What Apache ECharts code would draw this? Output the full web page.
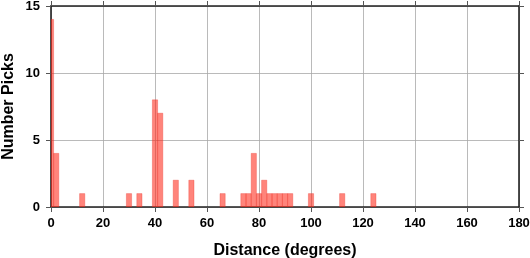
<!DOCTYPE html>
<html><head><meta charset="utf-8">
<script src="https://cdn.jsdelivr.net/npm/echarts@6/dist/echarts.min.js"></script>
<style>html,body{margin:0;padding:0;background:#fff}#c{width:530px;height:258px}</style>
</head><body><div id="c"></div>
<script>
// Histogram bins (2-degree bins centered on even degrees)
const binCenters = [0, 2, 12, 30, 34, 40, 42, 48, 54, 66, 74, 76, 78, 80, 82, 84, 86, 88, 90, 92, 100, 112, 124];
const binCounts  = [14, 4, 1, 1, 1, 8, 7, 2, 2, 1, 1, 1, 4, 1, 2, 1, 1, 1, 1, 1, 1, 1, 1];
const binWidth = 2;
const xTicks = [0, 20, 40, 60, 80, 100, 120, 140, 160, 180];
const yTicks = [0, 5, 10, 15];

const chart = echarts.init(document.getElementById('c'), null, {renderer: 'canvas'});
const font = '"Liberation Sans", Arial, Helvetica, sans-serif';
const data = binCenters.map((c, i) => [c, binCounts[i]]);

const tickStyle = {show: true, inside: false, length: 5, lineStyle: {color: '#555', width: 1}};
const frame = {show: true, onZero: false, lineStyle: {color: '#222', width: 1.6}};
chart.setOption({
  animation: false,
  grid: {left: 51, right: 11, top: 6, bottom: 51, containLabel: false, outerBoundsMode: 'none'},
  xAxis: [{
    type: 'value', min: xTicks[0], max: xTicks[xTicks.length - 1], interval: 20,
    name: 'Distance (degrees)', nameLocation: 'middle', nameGap: 36, nameMoveOverlap: false,
    nameTextStyle: {fontFamily: font, fontWeight: 'bold', fontSize: 16, color: '#000'},
    axisLine: frame, axisTick: tickStyle,
    axisLabel: {fontFamily: font, fontWeight: 'bold', fontSize: 13, color: '#000', margin: 10},
    splitLine: {show: true, lineStyle: {color: '#a8a8a8', width: 0.8}}
  }, {
    type: 'value', position: 'top', min: 0, max: 180, interval: 20,
    axisLine: frame, axisTick: tickStyle, axisLabel: {show: false}, splitLine: {show: false}
  }],
  yAxis: [{
    type: 'value', min: yTicks[0], max: yTicks[yTicks.length - 1], interval: 5,
    name: 'Number Picks', nameLocation: 'middle', nameGap: 34, nameRotate: 90, nameMoveOverlap: false,
    nameTextStyle: {fontFamily: font, fontWeight: 'bold', fontSize: 16, color: '#000'},
    axisLine: frame, axisTick: tickStyle,
    axisLabel: {fontFamily: font, fontWeight: 'bold', fontSize: 13, color: '#000', margin: 11},
    splitLine: {show: true, lineStyle: {color: '#a8a8a8', width: 0.8}}
  }, {
    type: 'value', position: 'right', min: 0, max: 15, interval: 5,
    axisLine: frame, axisTick: tickStyle, axisLabel: {show: false}, splitLine: {show: false}
  }],
  series: [{
    type: 'custom',
    clip: true,
    data: data,
    renderItem: function (params, api) {
      const c = api.value(0), v = api.value(1);
      const p1 = api.coord([c - binWidth / 2, v]);
      const p2 = api.coord([c + binWidth / 2, 0]);
      const rect = {x: p1[0], y: p1[1], width: p2[0] - p1[0], height: p2[1] - p1[1]};
      const cs = params.coordSys;
      const clipped = echarts.graphic.clipRectByRect(rect, {x: cs.x, y: cs.y, width: cs.width, height: cs.height});
      if (!clipped) return;
      return {
        type: 'rect', shape: clipped,
        style: {fill: 'rgba(255,35,20,0.56)', stroke: 'rgba(235,50,40,0.55)', lineWidth: 0.6}
      };
    }
  }]
});
</script></body></html>
